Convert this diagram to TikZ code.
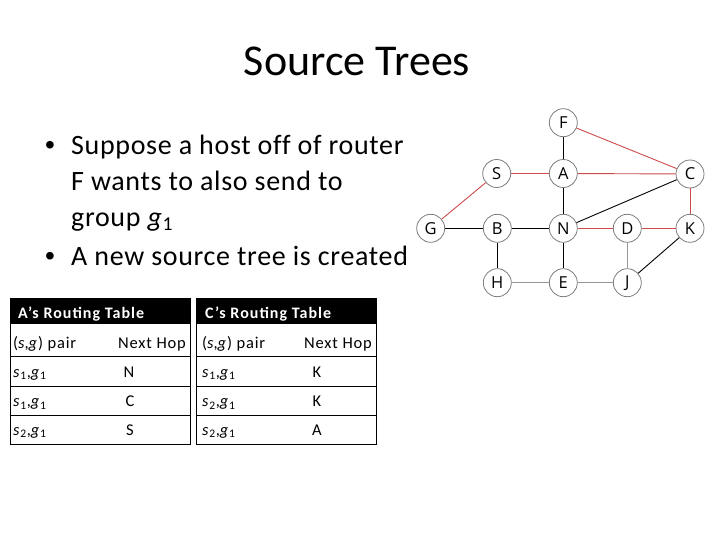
\documentclass[tikz,border=0pt]{standalone}
\usepackage{fontspec}
\setmainfont{Carlito}
\newfontfamily\nodefont{Open Sans}
\newfontfamily\bulletfont{Liberation Sans}
\definecolor{edgered}{RGB}{205,75,75}
\definecolor{edgegray}{RGB}{150,150,150}
\definecolor{circlegray}{RGB}{125,125,125}
\newcommand{\sgsub}[2]{\textit{s}\textsubscript{#1},\textit{g}\textsubscript{#2}}
\begin{document}
\begin{tikzpicture}[x=1pt,y=-1pt,
  router/.style={circle,draw=circlegray,fill=white,line width=0.8pt,minimum size=28pt,inner sep=0pt,font=\nodefont\fontsize{16.5}{16.5}\selectfont},
  link/.style={line width=0.9pt,black},
  redlink/.style={line width=0.9pt,edgered},
  graylink/.style={line width=0.9pt,edgegray},
  bullettext/.style={anchor=base west,inner sep=0pt,font=\addfontfeatures{LetterSpace=2.4,Ligatures=NoCommon}\fontsize{28}{34}\selectfont},
  bulletdot/.style={anchor=base,inner sep=0pt,font=\bulletfont\fontsize{28}{34}\selectfont},
  cell/.style={anchor=base west,inner sep=0pt,font=\addfontfeatures{LetterSpace=5}\fontsize{16.5}{19}\selectfont},
  valcell/.style={anchor=base,inner sep=0pt,font=\fontsize{16.5}{19}\selectfont},
  hdr/.style={anchor=base west,inner sep=0pt,font=\bfseries\addfontfeatures{LetterSpace=6.5}\fontsize{16}{19}\selectfont,text=white},
  tabline/.style={line width=0.8pt,black}]
\useasboundingbox (0,0) rectangle (720,540);

% title
\node[anchor=base,inner sep=0pt,font=\fontsize{44}{52}\selectfont] (title) at (357,76) {Source Trees};

% bullets
\node[bulletdot] (d1) at (50,155) {•};
\node[bullettext] (l1) at (71,155) {Suppose a host off of router};
\node[bullettext] (l2) at (71,190.7) {F wants to also send to};
\node[bullettext] (l3) at (71,226) {group \textit{g}\textsubscript{1}};
\node[bulletdot] (d2) at (50,265) {•};
\node[bullettext] (l4) at (71,265) {A new source tree is created};

% table A
\fill[black] (10.5,298) rectangle (190,324);
\draw[tabline] (10.5,298) rectangle (190,444);
\draw[tabline] (10.5,356) -- (190,356);
\draw[tabline] (10.5,386) -- (190,386);
\draw[tabline] (10.5,415) -- (190,415);
\node[hdr] (ah) at (18,318) {A’s Routing Table};
\node[cell] (a1) at (13,348) {(\textit{s},\textit{g}) pair};
\node[cell] (a2) at (118,348) {Next Hop};
\node[cell] (a3) at (13,377) {\sgsub{1}{1}};
\node[valcell] (a4) at (129,377) {N};
\node[cell] (a5) at (13,406.5) {\sgsub{1}{1}};
\node[valcell] (a6) at (130,406.5) {C};
\node[cell] (a7) at (13,435) {\sgsub{2}{1}};
\node[valcell] (a8) at (130,435) {S};

% table C
\fill[black] (196,298) rectangle (376,324);
\draw[tabline] (196,298) rectangle (376,444);
\draw[tabline] (196,356) -- (376,356);
\draw[tabline] (196,386) -- (376,386);
\draw[tabline] (196,415) -- (376,415);
\node[hdr] (ch) at (205,318) {C’s Routing Table};
\node[cell] (c1) at (202,348) {(\textit{s},\textit{g}) pair};
\node[cell] (c2) at (304,348) {Next Hop};
\node[cell] (c3) at (202,377) {\sgsub{1}{1}};
\node[valcell] (c4) at (317,377) {K};
\node[cell] (c5) at (202,406.5) {\sgsub{2}{1}};
\node[valcell] (c6) at (317,406.5) {K};
\node[cell] (c7) at (202,435) {\sgsub{2}{1}};
\node[valcell] (c8) at (317,435) {A};

% graph
\node[router] (F) at (563.3,122.7) {F};
\node[router] (S) at (496.7,173.5) {S};
\node[router] (A) at (563.3,173.5) {A};
\node[router] (C) at (690,174) {C};
\node[router] (G) at (430.7,228.3) {G};
\node[router] (B) at (497.3,228.3) {B};
\node[router] (N) at (563.3,228.3) {N};
\node[router] (D) at (627.3,228.3) {D};
\node[router] (K) at (690,228.3) {K};
\node[router] (H) at (497.3,282.7) {H};
\node[router] (E) at (563.3,282.7) {E};
\node[router] (J) at (627.3,282.7) {J};

\draw[link] (F) -- (A);
\draw[redlink] (F) -- (C);
\draw[redlink] (S) -- (A);
\draw[redlink] (A) -- (C);
\draw[redlink] (G) -- (S);
\draw[link] (A) -- (N);
\draw[link] (N) -- (C);
\draw[redlink] (C) -- (K);
\draw[link] (G) -- (B);
\draw[link] (B) -- (N);
\draw[redlink] (N) -- (D);
\draw[redlink] (D) -- (K);
\draw[link] (N) -- (E);
\draw[link] (B) -- (H);
\draw[graylink] (D) -- (J);
\draw[link] (K) -- (J);
\draw[graylink] (H) -- (E);
\draw[graylink] (E) -- (J);
\end{tikzpicture}
\end{document}
